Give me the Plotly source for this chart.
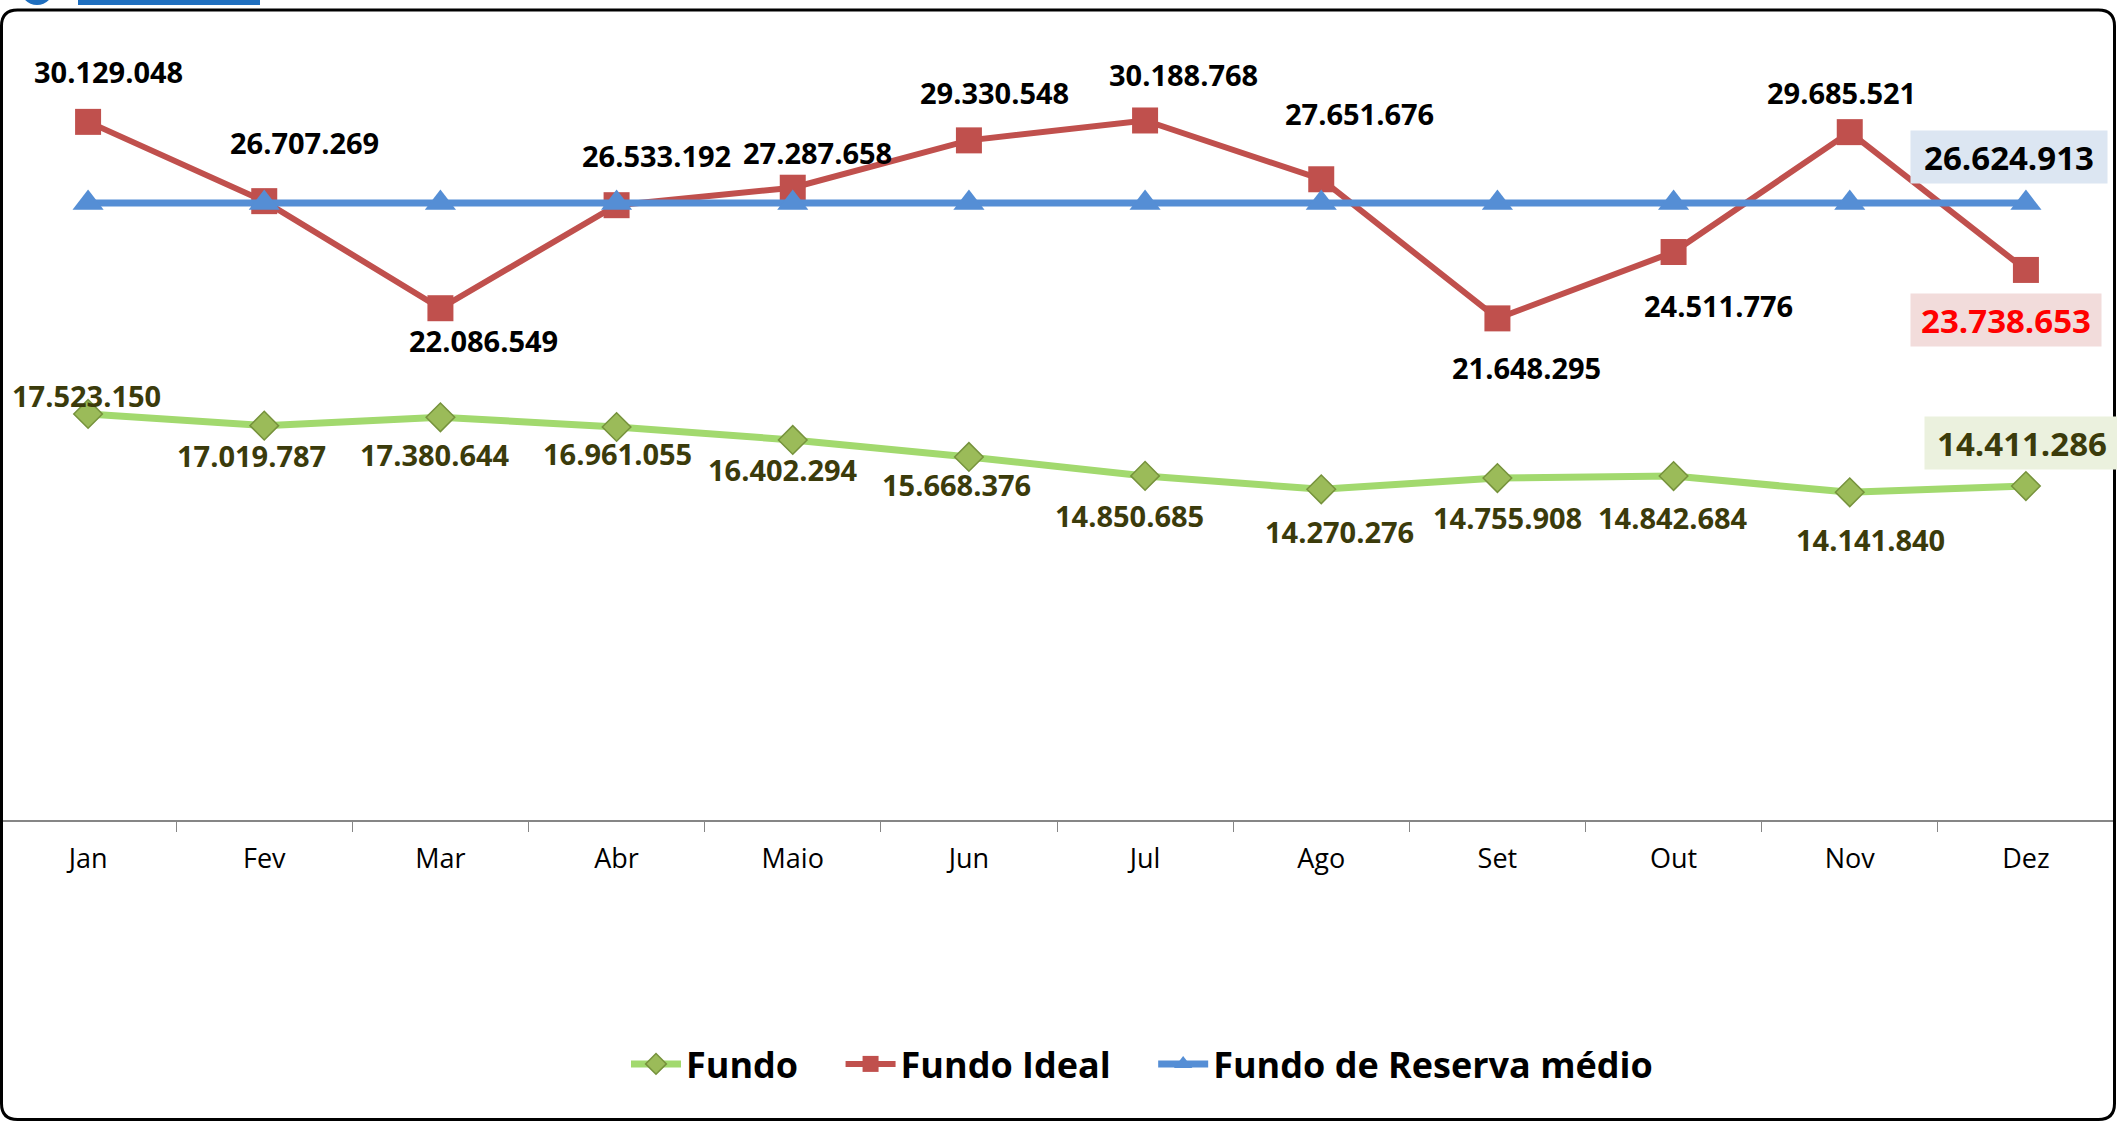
import plotly.graph_objects as go

# months and series
meses = ["Jan", "Fev", "Mar", "Abr", "Maio", "Jun", "Jul", "Ago", "Set", "Out", "Nov", "Dez"]
fundo = [17523150, 17019787, 17380644, 16961055, 16402294, 15668376,
         14850685, 14270276, 14755908, 14842684, 14141840, 14411286]
fundo_ideal = [30129048, 26707269, 22086549, 26533192, 27287658, 29330548,
               30188768, 27651676, 21648295, 24511776, 29685521, 23738653]
reserva_medio = [26624913] * 12

# label offsets (px) from each point: (dx, dy up)
off_ideal = [(20, 50), (40, 59), (43, -32), (40, 50), (25, 35), (26, 48),
             (38, 46), (38, 66), (29, -49), (45, -53), (-8, 40), (-20, -50)]
off_fundo = [(-2, 18), (-13, -30), (-5, -37), (1, -27), (-10, -30), (-12, -28),
             (-16, -40), (18, -42), (10, -39), (-1, -41), (21, -47), (-4, 43)]

W, H = 2117, 1121
L, R, T, B = 0, 3, 9, 301
PW, PH = W - L - R, H - T - B
FONT = "Open Sans"
SP = "\u00a0" * 4


def fmt(v):
    return f"{v:,}".replace(",", ".")


def px(x):
    return (x - L) / PW


def py(y):
    return (H - B - y) / PH


fig = go.Figure()
fig.add_trace(go.Scatter(
    x=meses, y=fundo, name="<b>Fundo</b>" + SP, mode="lines+markers",
    line=dict(color="#A2D96E", width=7),
    marker=dict(symbol="diamond", size=22, color="#9BBB59",
                line=dict(color="#76923C", width=1.5))))
fig.add_trace(go.Scatter(
    x=meses, y=fundo_ideal, name="<b>Fundo Ideal</b>" + SP, mode="lines+markers",
    line=dict(color="#C0504D", width=6),
    marker=dict(symbol="square", size=26, color="#C0504D")))
fig.add_trace(go.Scatter(
    x=meses, y=reserva_medio, name="<b>Fundo de Reserva médio</b>", mode="lines+markers",
    line=dict(color="#558ED5", width=7),
    marker=dict(symbol="triangle-up", size=27, color="#558ED5")))

ann = []
for i, (m, v) in enumerate(zip(meses, fundo_ideal)):
    dx, dy = off_ideal[i]
    a = dict(x=m, y=v, text=f"<b>{fmt(v)}</b>", showarrow=False, xshift=dx, yshift=dy,
             font=dict(family=FONT, size=29, color="black"))
    if i == len(meses) - 1:
        a.update(font=dict(family=FONT, size=33, color="#FF0000"), bgcolor="#F2DCDB",
                 width=188, height=50)
    ann.append(a)

for i, (m, v) in enumerate(zip(meses, fundo)):
    dx, dy = off_fundo[i]
    a = dict(x=m, y=v, text=f"<b>{fmt(v)}</b>", showarrow=False, xshift=dx, yshift=dy,
             font=dict(family=FONT, size=29, color="#3B3B0B"))
    if i == len(meses) - 1:
        a.update(font=dict(family=FONT, size=33, color="#3B3B0B"), bgcolor="#EBF1DE",
                 width=192, height=50)
    ann.append(a)

# only the last average point is labelled
ann.append(dict(x=meses[-1], y=reserva_medio[-1], text=f"<b>{fmt(reserva_medio[-1])}</b>",
                showarrow=False, xshift=-17, yshift=46,
                font=dict(family=FONT, size=33, color="black"), bgcolor="#DCE6F2",
                width=194, height=50))

# rounded chart border
x0, y0, x1, y1, r = 1.5, 10, 2114.5, 1119.5, 16
path = (f"M {px(x0)},{py(y0 + r)} Q {px(x0)},{py(y0)} {px(x0 + r)},{py(y0)} "
        f"L {px(x1 - r)},{py(y0)} Q {px(x1)},{py(y0)} {px(x1)},{py(y0 + r)} "
        f"L {px(x1)},{py(y1 - r)} Q {px(x1)},{py(y1)} {px(x1 - r)},{py(y1)} "
        f"L {px(x0 + r)},{py(y1)} Q {px(x0)},{py(y1)} {px(x0)},{py(y1 - r)} Z")
shapes = [
    dict(type="path", xref="paper", yref="paper", path=path,
         line=dict(color="black", width=3), layer="above"),
    # cropped bits of the page header above the chart
    dict(type="circle", xref="paper", yref="paper", x0=px(20), x1=px(54),
         y0=py(5), y1=py(-30), fillcolor="#1F6FBF", line=dict(width=0)),
    dict(type="rect", xref="paper", yref="paper", x0=px(78), x1=px(260),
         y0=py(5), y1=py(-10), fillcolor="#1F6FBF", line=dict(width=0)),
]

fig.update_layout(
    width=W, height=H,
    margin=dict(l=L, r=R, t=T, b=B),
    paper_bgcolor="white", plot_bgcolor="white",
    font=dict(family=FONT, color="black"),
    hovermode=False,
    annotations=ann, shapes=shapes,
    legend=dict(orientation="h", x=px(626), xanchor="left", y=py(1064), yanchor="middle",
                font=dict(family=FONT, size=36, color="black"), itemwidth=50,
                tracegroupgap=0),
    xaxis=dict(range=[-0.5, 11.5], showgrid=False, showline=True, linecolor="#868686",
               linewidth=1.5, ticks="outside", tickson="boundaries", ticklen=10,
               tickcolor="#868686", tickfont=dict(family=FONT, size=27, color="black"),
               ticklabelstandoff=14, fixedrange=True),
    yaxis=dict(range=[0, 35000000], showgrid=False, showticklabels=False, zeroline=False,
               showline=False, fixedrange=True),
)

fig.write_html("out.html", config={"displayModeBar": False},
               post_script="document.body.style.margin='0';")
